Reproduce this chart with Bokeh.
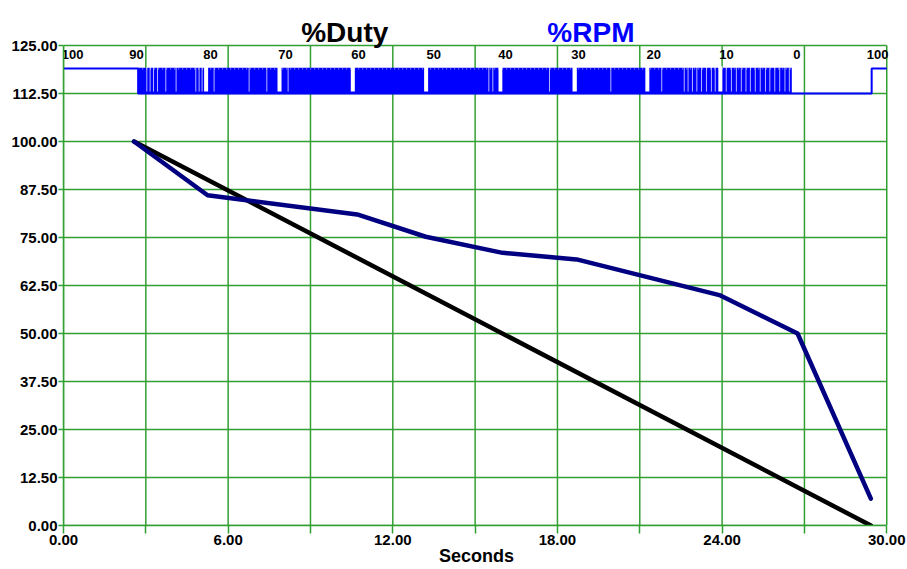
from bokeh.plotting import figure
from bokeh.models import Range1d, FixedTicker, PrintfTickFormatter
from bokeh.core.properties import value
from bokeh.embed import file_html
from bokeh.resources import INLINE

# ---------------- data ----------------
# %Duty command (black line)
duty_time = [2.57, 29.42]
duty_pct = [100.0, 0.0]

# %RPM response (navy line)
rpm_time = [2.57, 5.25, 10.7, 13.2, 16.0, 18.7, 23.9, 26.75, 29.42]
rpm_pct = [100.0, 86.0, 81.0, 75.2, 71.0, 69.3, 60.0, 50.0, 7.0]

# duty step labels along the PWM strip
step_time = [0.33, 2.66, 5.36, 8.09, 10.75, 13.49, 16.11, 18.77, 21.51, 24.16, 26.72, 29.67]
step_label = ["100", "90", "80", "70", "60", "50", "40", "30", "20", "10", "0", "100"]

# PWM trace (strip between 112.5 and 119)
pwm_trace_time = [0.0, 2.72, 2.72, 29.45, 29.45, 30.0]
pwm_trace_level = [119.0, 119.0, 112.5, 112.5, 119.0, 119.0]
pwm_dense_start = [2.72]
pwm_dense_end = [26.54]
pwm_low_level = [112.5]
pwm_high_level = [119.0]
pwm_gap_start = [5.124, 7.799, 10.470, 13.141, 15.853, 18.549, 21.203, 23.863]
pwm_gap_end = [5.270, 7.945, 10.616, 13.287, 15.991, 18.706, 21.348, 24.009]
pwm_slit_time = [3.036, 3.156, 3.280, 3.426, 3.728, 4.103, 4.821, 4.942, 5.051, 5.488,
                 6.764, 7.409, 8.185, 15.50, 15.645, 17.71, 19.945, 21.80,
                 22.62, 22.76, 22.92, 23.08, 23.25, 23.43, 23.61, 23.75,
                 24.15, 24.34, 24.52, 24.70, 24.87, 25.03, 25.21, 25.39, 25.58,
                 25.74, 25.92, 26.10, 26.29, 26.45]

# titles
title_text = ["%Duty", "%RPM"]
title_time = [10.25, 19.22]

# axes ticks
x_major = [0, 6, 12, 18, 24, 30]
x_minor = [3, 9, 15, 21, 27]
y_ticks = [0, 12.5, 25, 37.5, 50, 62.5, 75, 87.5, 100, 112.5, 125]

# ---------------- styling ----------------
GREEN = "#33a033"
BLUE = "#0000ff"
NAVY = "#000080"
FONT = "Liberation Sans"
X_MAX, Y_MAX = 30, 125

p = figure(width=907, height=569,
           min_border_left=63, min_border_right=18,
           min_border_top=3, min_border_bottom=44,
           x_range=Range1d(0, 30.1), y_range=Range1d(0, 135.94),
           output_backend="svg", toolbar_location=None)

p.background_fill_color = "white"
p.border_fill_color = "white"
p.outline_line_color = None
p.grid.visible = False

# x axis
xa = p.xaxis[0]
xa.ticker = FixedTicker(ticks=x_major, minor_ticks=x_minor)
xa.formatter = PrintfTickFormatter(format="%.2f")
xa.bounds = (0, X_MAX)
xa.major_tick_out = 8
xa.major_tick_in = 0
xa.minor_tick_out = 8
xa.minor_tick_in = 0
xa.major_label_standoff = 1
xa.axis_label = "Seconds"
xa.axis_label_standoff = -2
xa.axis_label_text_font = FONT
xa.axis_label_text_font_style = "bold"
xa.axis_label_text_font_size = "18px"
xa.axis_label_text_color = "black"

# y axis
ya = p.yaxis[0]
ya.ticker = FixedTicker(ticks=y_ticks, minor_ticks=[])
ya.formatter = PrintfTickFormatter(format="%.2f")
ya.bounds = (0, Y_MAX)
ya.major_tick_out = 5
ya.major_tick_in = 0
ya.major_label_standoff = 1

for ax in (xa, ya):
    ax.axis_line_color = GREEN
    ax.axis_line_width = 1.5
    ax.major_tick_line_color = GREEN
    ax.minor_tick_line_color = GREEN
    ax.major_tick_line_width = 1.5
    ax.minor_tick_line_width = 1.5
    ax.major_label_text_font = FONT
    ax.major_label_text_font_style = "bold"
    ax.major_label_text_font_size = "15px"
    ax.major_label_text_color = "black"

# ---------------- grid (limited to the 0..125 plot box) ----------------
vgrid = sorted(x_major + x_minor)
p.segment(x0=vgrid, y0=[0] * len(vgrid), x1=vgrid, y1=[Y_MAX] * len(vgrid),
          line_color=GREEN, line_width=1.5)
p.segment(x0=[0] * len(y_ticks), y0=y_ticks, x1=[X_MAX] * len(y_ticks), y1=y_ticks,
          line_color=GREEN, line_width=1.5)

# ---------------- PWM strip ----------------
p.quad(left=pwm_dense_start, right=pwm_dense_end,
       bottom=pwm_low_level, top=[v + 0.2 for v in pwm_high_level],
       fill_color=BLUE, line_color=None)
p.line(x=[pwm_dense_start[0], pwm_dense_end[0]], y=[pwm_high_level[0] - 0.1] * 2,
       line_color="white", line_width=1, line_dash="1 3", line_alpha=0.7)
p.segment(x0=pwm_slit_time, y0=[113.0] * len(pwm_slit_time),
          x1=pwm_slit_time, y1=[119.4] * len(pwm_slit_time),
          line_color="white", line_width=1, line_alpha=0.7)
p.quad(left=pwm_gap_start, right=pwm_gap_end,
       bottom=[113.0] * len(pwm_gap_start), top=[119.6] * len(pwm_gap_start),
       fill_color="white", line_color=None)
p.line(x=pwm_trace_time, y=pwm_trace_level, line_color=BLUE, line_width=2)

p.text(x=step_time, y=[122.6] * len(step_time), text=step_label,
       text_font=value(FONT), text_font_style="bold", text_font_size="13px",
       text_align="center", text_baseline="middle", text_color="black")

# ---------------- curves ----------------
p.line(x=duty_time, y=duty_pct, line_color="black", line_width=4.5, line_cap="round")
p.line(x=rpm_time, y=rpm_pct, line_color=NAVY, line_width=4.5,
       line_join="round", line_cap="round")

# ---------------- titles ----------------
p.text(x=title_time, y=[128.26] * 2, text=title_text,
       text_font=value(FONT), text_font_style="bold", text_font_size="28px",
       text_align="center", text_baseline="alphabetic",
       text_color=["black", BLUE])

open("out.html", "w").write(file_html(p, INLINE))
